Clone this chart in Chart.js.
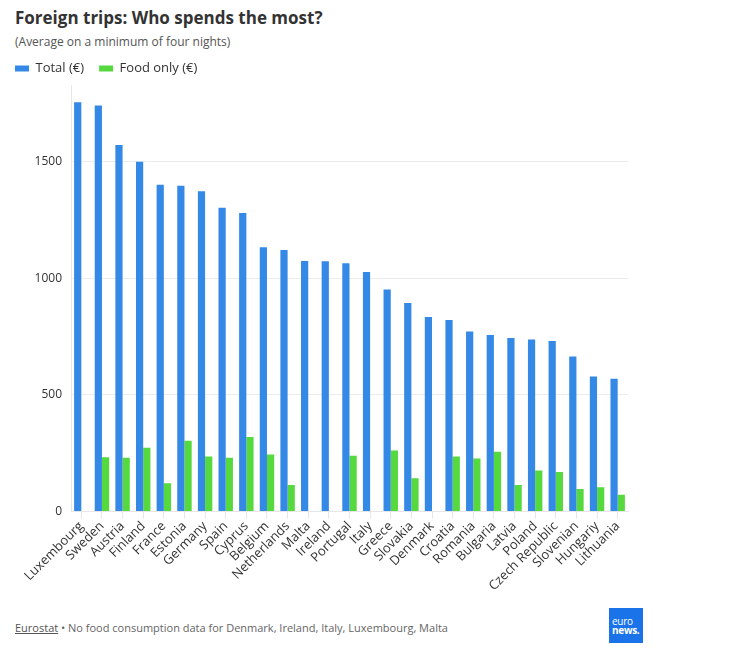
<!DOCTYPE html>
<html>
<head>
<meta charset="utf-8">
<script src="https://cdn.jsdelivr.net/npm/chart.js@4/dist/chart.umd.min.js"></script>
<style>
  body { margin: 0; background: #fff; font-family: "Open Sans", sans-serif; width: 733px; height: 665px; position: relative; overflow: hidden; }
  #title { position: absolute; left: 15px; top: 6px; font-size: 17px; font-weight: bold; color: #333; }
  #sub { position: absolute; left: 15px; top: 33px; font-size: 12px; color: #555; }
  #wrap { position: absolute; left: 0; top: 47px; width: 733px; height: 547px; }
  #foot { position: absolute; left: 15px; top: 620px; font-size: 11px; color: #666; }
  #foot u { color: #555; }
  #logo { position: absolute; left: 609px; top: 608px; width: 34px; height: 35px; background: #1a73e8; color: #fff; font-size: 10px; line-height: 9px; font-family: "Open Sans", sans-serif; }
  #logo span { position: absolute; left: 3px; top: 9px; letter-spacing: -0.3px; }
</style>
</head>
<body>
<div id="title">Foreign trips: Who spends the most?</div>
<div id="sub">(Average on a minimum of four nights)</div>
<div id="wrap"><canvas id="myChart"></canvas></div>
<div id="foot"><u>Eurostat</u> • No food consumption data for Denmark, Ireland, Italy, Luxembourg, Malta</div>
<div id="logo"><span>euro<br><b>news.</b></span></div>
<script>
const countries = ["Luxembourg","Sweden","Austria","Finland","France","Estonia","Germany","Spain","Cyprus","Belgium","Netherlands","Malta","Ireland","Portugal","Italy","Greece","Slovakia","Denmark","Croatia","Romania","Bulgaria","Latvia","Poland","Czech Republic","Slovenian","Hungariy","Lithuania"];
const totalSpend = [1754,1740,1571,1499,1400,1396,1373,1302,1279,1133,1121,1074,1073,1064,1027,951,894,834,821,771,756,744,737,731,664,579,569];
// null where there is no food data
const foodSpend = [null,233,230,273,121,303,236,230,319,244,114,null,null,239,null,261,143,null,236,227,256,114,176,169,96,104,72];
const yTicks = [0,500,1000,1500];

var ctx = document.getElementById("myChart").getContext("2d");
window.myChart = new Chart(ctx, {
    type: 'bar',
    data: {
        labels: countries,
        datasets: [{
            label: 'Total (€)',
            data: totalSpend,
            backgroundColor: '#3589e6',
            categoryPercentage: 0.7,
            barPercentage: 1.0
        },{
            label: 'Food only (€)',
            data: foodSpend,
            backgroundColor: '#55d93f',
            categoryPercentage: 0.7,
            barPercentage: 1.0
        }]
    },
    options: {
        responsive: true,
        maintainAspectRatio: false,
        animation: false,
        layout: { padding: { left: 0, right: 105, top: 0, bottom: 0 } },
        plugins: {
            legend: {
                align: 'start',
                labels: {
                    boxWidth: 14, boxHeight: 6, padding: 15,
                    color: '#333',
                    font: { family: 'Open Sans', size: 13 }
                }
            },
            tooltip: { enabled: false }
        },
        scales: {
            x: {
                grid: { drawOnChartArea: false, offset: false, tickLength: 7, color: '#e6e6e6' },
                border: { color: '#e6e6e6' },
                ticks: {
                    maxRotation: 45, minRotation: 45, autoSkip: false, padding: 0,
                    color: '#333', font: { family: 'Open Sans', size: 13 }
                }
            },
            y: {
                min: 0, max: 1828,
                grid: { color: '#ececec', drawTicks: false },
                border: { color: '#e6e6e6' },
                ticks: {
                    padding: 9, color: '#333', font: { family: 'Open Sans', size: 12 },
                    callback: function(v){ return String(v); }
                },
                afterBuildTicks: function(scale){
                    scale.ticks = yTicks.map(v => ({ value: v }));
                },
                afterFit: function(scale){ scale.width = 71; }
            }
        }
    }
});
</script>
</body>
</html>
